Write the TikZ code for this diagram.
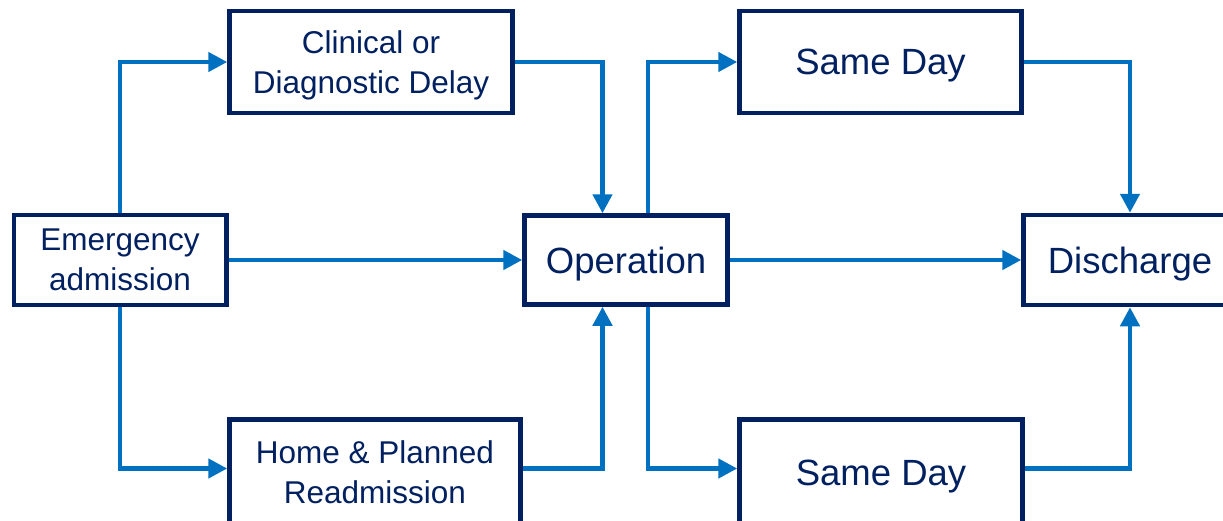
\documentclass[tikz,border=0pt]{standalone}
\usepackage{fontspec}
\setmainfont{Liberation Sans}
\usepackage{tikz}
\usetikzlibrary{arrows.meta}
\definecolor{boxnavy}{RGB}{0,32,96}
\definecolor{flowblue}{RGB}{0,112,192}

\begin{document}
\begin{tikzpicture}[x=1pt,y=-1pt,
  box/.style={draw=boxnavy,line width=4.5pt,text=boxnavy,fill=white,align=center,inner sep=0pt,text depth=0pt},
  small/.style={font=\fontsize{31.5}{40}\selectfont},
  big/.style={font=\fontsize{36.5}{44}\selectfont},
  flow/.style={draw=flowblue,line width=4.5pt,-{Triangle[length=19pt,width=19pt]}}]
  \useasboundingbox (0,0) rectangle (1223,520);
  \node[box,small,minimum width=212.5pt,minimum height=90pt] at (120,260) (emerg) {Emergency\\admission};
  \node[box,small,minimum width=283pt,minimum height=102pt] at (371,62) (clin) {Clinical or\\Diagnostic Delay};
  \node[box,small,minimum width=291pt,minimum height=106pt] at (375,472.5) (home) {Home \& Planned\\Readmission};
  \node[box,big,minimum width=203pt,minimum height=89pt] at (626,260) (op) {Operation};
  \node[box,big,minimum width=282pt,minimum height=102pt] at (880.5,62) (sd1) {Same Day};
  \node[box,big,minimum width=283pt,minimum height=106pt] at (881,472.5) (sd2) {Same Day};
  \node[box,big,minimum width=213pt,minimum height=90pt] at (1130,260) (dis) {Discharge};
  \coordinate (opin) at ([xshift=-23.5pt]op.north);
  \coordinate (opout) at ([xshift=22pt]op.north);
  \coordinate (opin2) at ([xshift=-23.5pt]op.south);
  \coordinate (opout2) at ([xshift=22pt]op.south);
  \draw[flow] (emerg.north) |- (clin.west);
  \draw[flow] (emerg.south) |- ([yshift=4pt]home.west);
  \draw[flow] (clin.east) -| (opin);
  \draw[flow] ([yshift=4pt]home.east) -| (opin2);
  \draw[flow] (opout) |- (sd1.west);
  \draw[flow] (opout2) |- ([yshift=4pt]sd2.west);
  \draw[flow] (sd1.east) -| (dis.north);
  \draw[flow] ([yshift=4pt]sd2.east) -| (dis.south);
  \foreach \x/\y in {emerg/op,op/dis} \draw[flow] (\x.east) -- (\y.west);
\end{tikzpicture}
\end{document}
